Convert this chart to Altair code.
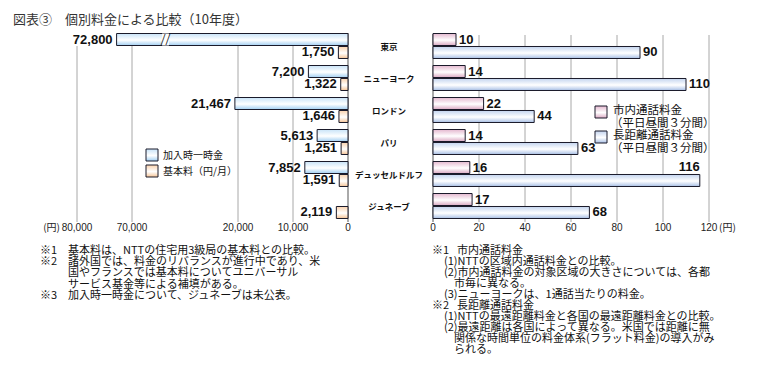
import altair as alt
import pandas as pd

# ---------------- data ----------------
cities = ["東京", "ニューヨーク", "ロンドン", "パリ", "デュッセルドルフ", "ジュネーブ"]
connection_fee = [72800, 7200, 21467, 5613, 7852, None]   # 加入時一時金 (Geneva not published)
basic_fee = [1750, 1322, 1646, 1251, 1591, 2119]          # 基本料（円/月）
local_call = [10, 14, 22, 14, 16, 17]                     # 市内通話料金
long_call = [90, 110, 44, 63, 116, 68]                    # 長距離通話料金

left_ticks = [0, 10000, 20000, 70000, 80000]
left_tick_labels = ["0", "10,000", "20,000", "70,000", "80,000"]
right_ticks = [0, 20, 40, 60, 80, 100, 120]
right_tick_labels = ["0", "20", "40", "60", "80", "100", "120"]

left_series = ["加入時一時金", "基本料（円/月）"]
right_series = ["市内通話料金", "長距離通話料金"]
right_series_sub = "（平日昼間３分間）"

title_text = "図表③　個別料金による比較（10年度）"
notes_left = [
    ("※1", "基本料は、NTTの住宅用3級局の基本料との比較。"),
    ("※2", "諸外国では、料金のリバランスが進行中であり、米"),
    ("", "国やフランスでは基本料についてユニバーサル"),
    ("", "サービス基金等による補填がある。"),
    ("※3", "加入時一時金について、ジュネーブは未公表。"),
]
notes_right = [
    ("※1", "市内通話料金", 0),
    ("", "(1)NTTの区域内通話料金との比較。", 1),
    ("", "(2)市内通話料金の対象区域の大きさについては、各都", 1),
    ("", "市毎に異なる。", 2),
    ("", "(3)ニューヨークは、1通話当たりの料金。", 1),
    ("※2", "長距離通話料金", 0),
    ("", "(1)NTTの最遠距離料金と各国の最遠距離料金との比較。", 1),
    ("", "(2)最遠距離は各国によって異なる。米国では距離に無", 1),
    ("", "関係な時間単位の料金体系(フラット料金)の導入がみ", 2),
    ("", "られる。", 2),
]

# ---------------- tables ----------------
rows = []
for c, v in zip(cities, connection_fee):
    if v is not None:
        rows.append({"city": c, "series": left_series[0], "slot": "a", "value": v})
for c, v in zip(cities, basic_fee):
    rows.append({"city": c, "series": left_series[1], "slot": "b", "value": v})
left_df = pd.DataFrame(rows)

rows = []
for c, v in zip(cities, local_call):
    rows.append({"city": c, "series": right_series[0], "slot": "a", "value": v})
for c, v in zip(cities, long_call):
    rows.append({"city": c, "series": right_series[1], "slot": "b", "value": v})
right_df = pd.DataFrame(rows)

lt_df = pd.DataFrame({"tick": left_ticks, "label": left_tick_labels})
rt_df = pd.DataFrame({"tick": right_ticks, "label": right_tick_labels})
city_df = pd.DataFrame({"city": cities})

# ---------------- scales ----------------
JP = "Noto Sans CJK JP"
NUM = "Liberation Sans"
LX = alt.Scale(domain=[0, 20000, 70000, 80000], range=[340, 230, 124, 69], nice=False, zero=False)
RX = alt.Scale(domain=[0, 120], range=[425, 701], nice=False, zero=False)
YS = alt.Scale(domain=cities, range=[22, 214], paddingInner=0, paddingOuter=0)
YO = alt.Scale(domain=["a", "b"], paddingInner=1 / 13, paddingOuter=0.27)


def grad(c0, c1):
    return alt.Gradient(
        gradient="linear", x1=0, y1=0, x2=0, y2=1,
        stops=[alt.GradientStop(offset=0, color=c0),
               alt.GradientStop(offset=0.55, color="#ffffff"),
               alt.GradientStop(offset=1, color=c1)])


G_BLUE_L = grad("#c8e3f8", "#a2cff2")
G_ORANGE = grad("#fad2ad", "#f6c597")
G_PINK = grad("#e4b8cf", "#dba9c3")
G_BLUE_R = grad("#c3d4ef", "#a9c0e6")


def lx(f="value"):
    return alt.X(f"{f}:Q", scale=LX, axis=None)


def rx(f="value"):
    return alt.X(f"{f}:Q", scale=RX, axis=None)


Y = alt.Y("city:N", scale=YS, axis=None)
YOFF = alt.YOffset("slot:N", scale=YO)

layers = []

# grid lines
layers.append(alt.Chart(lt_df).transform_filter("datum.tick > 0").mark_rule(color="#a8a8a8")
              .encode(x=lx("tick"), y=alt.value(38), y2=alt.value(214)))
layers.append(alt.Chart(lt_df).transform_filter("datum.tick == 0").mark_rule(color="#555")
              .encode(x=lx("tick"), y=alt.value(25), y2=alt.value(214)))
layers.append(alt.Chart(rt_df).transform_filter("datum.tick > 0").mark_rule(color="#a8a8a8")
              .encode(x=rx("tick"), y=alt.value(27), y2=alt.value(214)))
layers.append(alt.Chart(rt_df).transform_filter("datum.tick == 0").mark_rule(color="#555")
              .encode(x=rx("tick"), y=alt.value(26), y2=alt.value(214)))

# bars
for df, sc, ser, g in [(left_df, lx, left_series[0], G_BLUE_L), (left_df, lx, left_series[1], G_ORANGE),
                       (right_df, rx, right_series[0], G_PINK), (right_df, rx, right_series[1], G_BLUE_R)]:
    layers.append(alt.Chart(df).transform_filter(alt.datum.series == ser)
                  .mark_bar(fill=g, stroke="#1a1a2a", strokeWidth=1)
                  .encode(x=sc(), x2=alt.datum(0), y=Y, yOffset=YOFF))

# axis break on the 72,800 bar
brk = left_df[left_df["value"] > 70000].assign(b0=52600, b1=55800, bm=54200)
layers.append(alt.Chart(brk).mark_bar(fill="white", stroke=None)
              .encode(x=lx("b0"), x2="b1:Q", y=Y, yOffset=YOFF))
layers.append(alt.Chart(brk).mark_text(text="//", font="Liberation Serif", fontSize=17, color="#222")
              .encode(x=lx("bm"), y=Y, yOffset=YOFF))

# value labels
layers.append(alt.Chart(left_df).mark_text(align="right", dx=-4, font=NUM, fontWeight="bold", fontSize=13, color="#111")
              .encode(x=lx(), y=Y, yOffset=YOFF, text=alt.Text("value:Q", format=",")))
layers.append(alt.Chart(right_df).transform_filter("datum.city != 'デュッセルドルフ' || datum.slot == 'a'")
              .mark_text(align="left", dx=3, font=NUM, fontWeight="bold", fontSize=13, color="#111")
              .encode(x=rx(), y=Y, yOffset=YOFF, text="value:Q"))
layers.append(alt.Chart(right_df).transform_filter("datum.city == 'デュッセルドルフ' && datum.slot == 'b'")
              .mark_text(align="right", dx=0, dy=-13, font=NUM, fontWeight="bold", fontSize=13, color="#111")
              .encode(x=rx(), y=Y, yOffset=YOFF, text="value:Q"))

# city names
layers.append(alt.Chart(city_df).mark_text(font=JP, fontSize=8.5, fontWeight="bold", color="#111", dy=1)
              .encode(x=alt.value(381), y=Y, text="city:N"))

# tick labels
layers.append(alt.Chart(lt_df).mark_text(font=NUM, fontSize=10, color="#222")
              .encode(x=lx("tick"), y=alt.value(220), text="label:N"))
layers.append(alt.Chart(lt_df).transform_filter("datum.tick == 80000")
              .mark_text(text="(円)", font=JP, fontSize=10, color="#222", align="right", dx=-17)
              .encode(x=lx("tick"), y=alt.value(220)))
layers.append(alt.Chart(rt_df).mark_text(font=NUM, fontSize=10, color="#222")
              .encode(x=rx("tick"), y=alt.value(220), text="label:N"))
layers.append(alt.Chart(rt_df).transform_filter("datum.tick == 120")
              .mark_text(text="(円)", font=JP, fontSize=10, color="#222", align="left", dx=10)
              .encode(x=rx("tick"), y=alt.value(220)))


def txt(t, x, y, size=12, align="left", color="#111", weight="normal"):
    return (alt.Chart(pd.DataFrame({"t": [t]}))
            .mark_text(font=JP, fontSize=size, align=align, baseline="middle", color=color, fontWeight=weight)
            .encode(x=alt.value(x), y=alt.value(y), text="t:N"))


def box(x, y, g):
    return (alt.Chart(pd.DataFrame({"t": [0]})).mark_rect(fill=g, stroke="#1a1a2a", strokeWidth=1)
            .encode(x=alt.value(x), x2=alt.value(x + 12), y=alt.value(y), y2=alt.value(y + 12)))


# legends
layers.append(box(138, 141, G_BLUE_L))
layers.append(txt(left_series[0], 155, 147.5, 10))
layers.append(box(138, 157, G_ORANGE))
layers.append(txt(left_series[1], 155, 163.5, 10))
layers.append(box(587, 98, G_PINK))
layers.append(txt(right_series[0], 605, 103, 11.5))
layers.append(txt(right_series_sub, 603, 116, 11.5))
layers.append(box(587, 123, G_BLUE_R))
layers.append(txt(right_series[1], 605, 128, 11.5))
layers.append(txt(right_series_sub, 603, 141, 11.5))

# title
layers.append(txt(title_text, 5, 11.5, 13, color="#333"))

# notes
NOTE_SIZE = 11
for i, (mk, t) in enumerate(notes_left):
    y = 243 + 11.2 * i
    if mk:
        layers.append(txt(mk, 32, y, NOTE_SIZE))
    layers.append(txt(t, 60, y, NOTE_SIZE))

indent = {0: 449, 1: 436, 2: 446}
for i, (mk, t, lvl) in enumerate(notes_right):
    y = 243 + 11 * i
    if mk:
        layers.append(txt(mk, 424, y, NOTE_SIZE))
    layers.append(txt(t, indent[lvl], y, NOTE_SIZE))

chart = (alt.layer(*layers)
         .resolve_scale(x="independent")
         .properties(width=754, height=357, autosize=alt.AutoSizeParams(type="none"), padding=0)
         .configure_view(stroke=None))

chart.save("out.html", embed_options={"renderer": "svg", "actions": False})
